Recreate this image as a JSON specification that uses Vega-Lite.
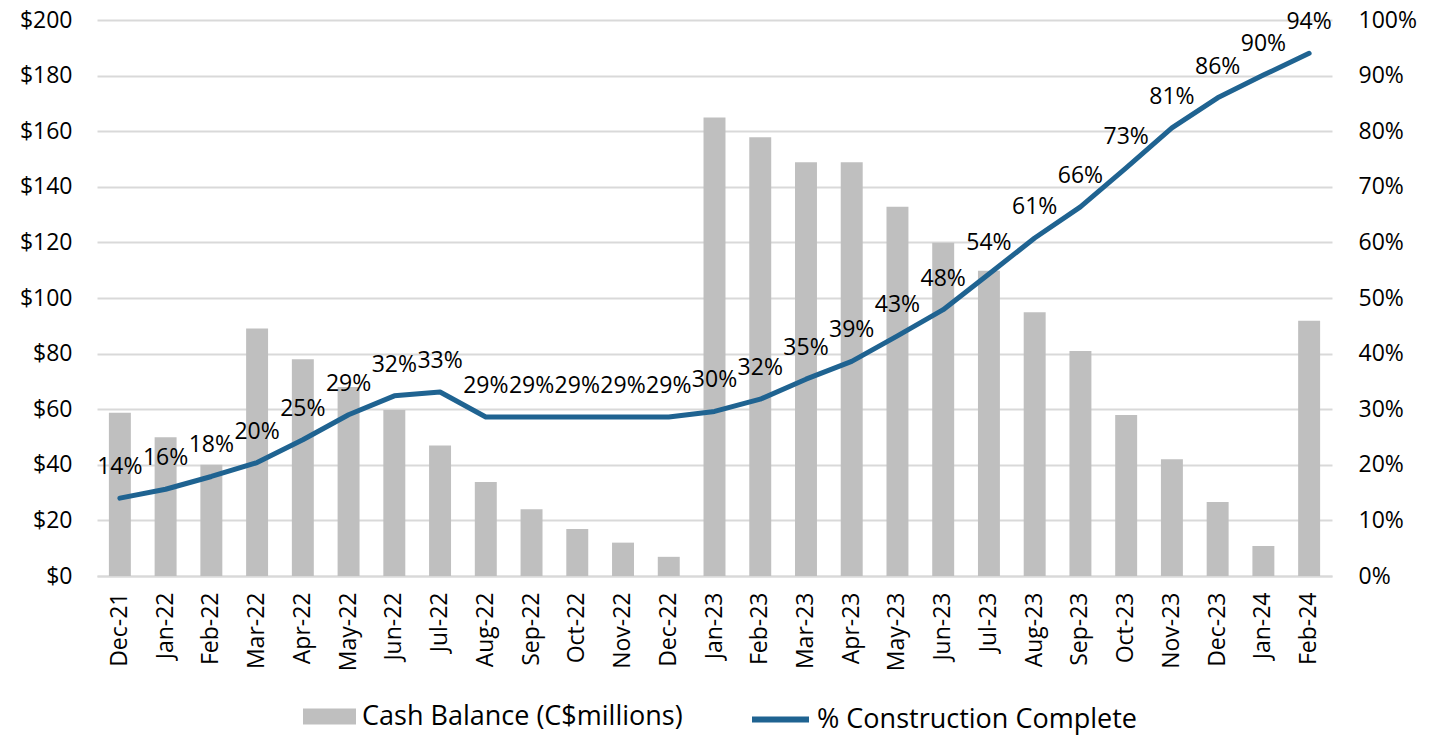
{
  "$schema": "https://vega.github.io/schema/vega-lite/v6.json",
  "width": 1235,
  "height": 556,
  "autosize": {"type": "none"},
  "padding": {"left": 97, "top": 20, "right": 97, "bottom": 159},
  "config": {
    "view": {"stroke": null},
    "font": "Open Sans",
    "axis": {"labelFont": "Open Sans", "labelFontSize": 23, "labelColor": "#000000", "ticks": false, "title": null}
  },
  "data": {
    "values": [
      {"month": "Dec-21", "cash": 58.7, "pct": 0.140},
      {"month": "Jan-22", "cash": 49.9, "pct": 0.156},
      {"month": "Feb-22", "cash": 40.0, "pct": 0.179},
      {"month": "Mar-22", "cash": 89.0, "pct": 0.204},
      {"month": "Apr-22", "cash": 78.0, "pct": 0.245},
      {"month": "May-22", "cash": 68.0, "pct": 0.290},
      {"month": "Jun-22", "cash": 59.7, "pct": 0.324},
      {"month": "Jul-22", "cash": 46.9, "pct": 0.331},
      {"month": "Aug-22", "cash": 33.8, "pct": 0.286},
      {"month": "Sep-22", "cash": 24.0, "pct": 0.286},
      {"month": "Oct-22", "cash": 16.9, "pct": 0.286},
      {"month": "Nov-22", "cash": 12.0, "pct": 0.286},
      {"month": "Dec-22", "cash": 6.9, "pct": 0.286},
      {"month": "Jan-23", "cash": 164.9, "pct": 0.296},
      {"month": "Feb-23", "cash": 157.8, "pct": 0.318},
      {"month": "Mar-23", "cash": 148.8, "pct": 0.354},
      {"month": "Apr-23", "cash": 148.8, "pct": 0.386},
      {"month": "May-23", "cash": 132.8, "pct": 0.432},
      {"month": "Jun-23", "cash": 119.9, "pct": 0.479},
      {"month": "Jul-23", "cash": 109.8, "pct": 0.543},
      {"month": "Aug-23", "cash": 94.9, "pct": 0.608},
      {"month": "Sep-23", "cash": 80.9, "pct": 0.664},
      {"month": "Oct-23", "cash": 57.9, "pct": 0.734},
      {"month": "Nov-23", "cash": 42.0, "pct": 0.806},
      {"month": "Dec-23", "cash": 26.6, "pct": 0.860},
      {"month": "Jan-24", "cash": 10.8, "pct": 0.901},
      {"month": "Feb-24", "cash": 91.8, "pct": 0.940}
    ]
  },
  "encoding": {
    "x": {
      "field": "month",
      "type": "nominal",
      "sort": null,
      "scale": {"paddingInner": 0.52, "paddingOuter": 0.26},
      "axis": {"labelAngle": -90, "labelPadding": 16, "domainColor": "#d9d9d9", "domainWidth": 2, "grid": false}
    }
  },
  "layer": [
    {
      "mark": {"type": "bar"},
      "encoding": {
        "y": {
          "field": "cash",
          "type": "quantitative",
          "scale": {"domain": [0, 200], "nice": false},
          "axis": {"orient": "left", "values": [0, 20, 40, 60, 80, 100, 120, 140, 160, 180, 200], "format": "$d", "grid": true, "gridColor": "#d9d9d9", "gridWidth": 2, "domain": false, "labelPadding": 25}
        },
        "fill": {
          "datum": "Cash Balance (C$millions)",
          "type": "nominal",
          "scale": {"range": ["#bfbfbf"]},
          "legend": {"orient": "none", "legendX": 206, "legendY": 670, "title": null, "padding": 0, "symbolType": "M-1,-0.3L1,-0.3L1,0.3L-1,0.3Z", "symbolSize": 2809, "symbolStrokeWidth": 0, "labelFont": "Open Sans", "labelFontSize": 27, "labelColor": "#000000", "labelOffset": 6, "labelLimit": 0}
        }
      }
    },
    {
      "encoding": {
        "y": {
          "field": "pct",
          "type": "quantitative",
          "scale": {"domain": [0, 1], "nice": false},
          "axis": {"orient": "right", "values": [0, 0.1, 0.2, 0.3, 0.4, 0.5, 0.6, 0.7, 0.8, 0.9, 1], "format": ".0%", "grid": false, "domain": false, "labelPadding": 26}
        }
      },
      "layer": [
        {
          "mark": {"type": "line", "strokeWidth": 5, "strokeCap": "round", "strokeJoin": "round"},
          "encoding": {
            "stroke": {
              "datum": "% Construction Complete",
              "type": "nominal",
              "scale": {"range": ["#1f6391"]},
              "legend": {"orient": "none", "legendX": 652, "legendY": 668, "title": null, "padding": 0, "symbolType": "stroke", "symbolSize": 3249, "symbolStrokeWidth": 6, "labelFont": "Open Sans", "labelFontSize": 27, "labelColor": "#000000", "labelOffset": 5, "labelLimit": 0}
            }
          }
        },
        {
          "mark": {"type": "text", "font": "Open Sans", "fontSize": 23, "color": "#000000", "dy": -31, "baseline": "middle", "align": "center"},
          "encoding": {
            "text": {"field": "pct", "type": "quantitative", "format": ".0%"}
          }
        }
      ]
    }
  ],
  "resolve": {"scale": {"y": "independent"}}
}
